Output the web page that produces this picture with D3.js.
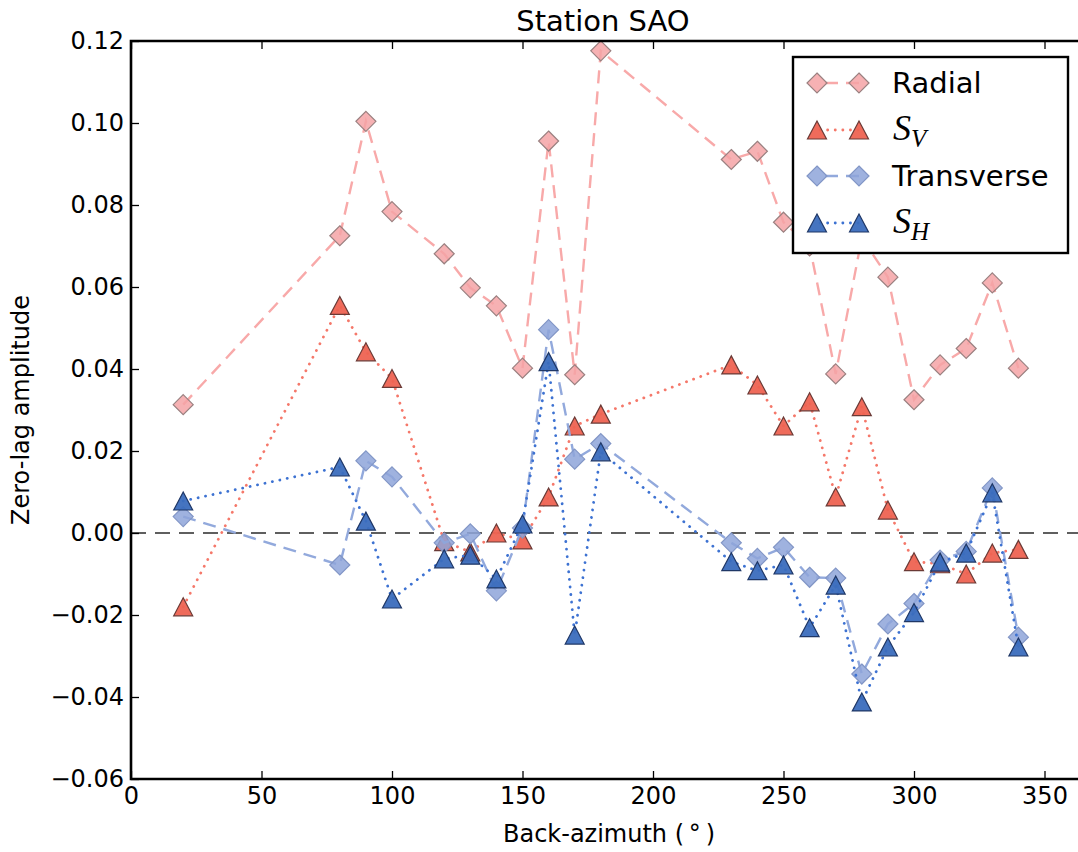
<!DOCTYPE html>
<html lang="en">
<head>
  <meta charset="UTF-8">
  <title>Station SAO</title>
  <script src="https://d3js.org/d3.v7.min.js"></script>
  <style>
    body { margin: 0; background: #fff; }
    svg { display: block; font-family: "DejaVu Sans", sans-serif; }
  </style>
</head>
<body>
<svg width="1078" height="852"></svg>
<script>
  // back-azimuth of each event bin (degrees)
  const azimuth = [20, 80, 90, 100, 120, 130, 140, 150, 160, 170, 180, 230, 240, 250, 260, 270, 280, 290, 300, 310, 320, 330, 340];

  // zero-lag amplitudes
  const radial = [0.0313, 0.0725, 0.1004, 0.0784, 0.0681, 0.0598, 0.0554, 0.0402, 0.0956, 0.0386, 0.1176,
                  0.0911, 0.0931, 0.0758, 0.0700, 0.0388, 0.0720, 0.0624, 0.0325, 0.0410, 0.0450, 0.0610, 0.0402];
  const sv = [-0.0180, 0.0555, 0.0442, 0.0377, -0.0021, -0.0046, 0.0000, -0.0017, 0.0088, 0.0261, 0.0290,
              0.0410, 0.0361, 0.0261, 0.0320, 0.0088, 0.0308, 0.0056, -0.0070, -0.0075, -0.0100, -0.0049, -0.0040];
  const transverse = [0.0040, -0.0078, 0.0176, 0.0137, -0.0024, -0.0002, -0.0141, 0.0012, 0.0496, 0.0180, 0.0218,
                      -0.0024, -0.0062, -0.0035, -0.0108, -0.0110, -0.0344, -0.0222, -0.0172, -0.0066, -0.0045, 0.0110, -0.0254];
  const sh = [0.0078, 0.0161, 0.0029, -0.0161, -0.0063, -0.0054, -0.0112, 0.0022, 0.0418, -0.0249, 0.0198,
              -0.0070, -0.0092, -0.0078, -0.0231, -0.0127, -0.0412, -0.0278, -0.0194, -0.0071, -0.0049, 0.0098, -0.0278];

  const xTicks = [0, 50, 100, 150, 200, 250, 300, 350];
  const yTicks = [-0.06, -0.04, -0.02, 0.00, 0.02, 0.04, 0.06, 0.08, 0.10, 0.12];

  const series = [
    { name: "Radial", values: radial, shape: "diamond", fill: "#f5a3a6", stroke: "#9a8080",
      line: "#f8a9a9", dash: "13,8", opacity: 0.85 },
    { name: "SV", sub: "V", values: sv, shape: "triangle", fill: "#ee6352", stroke: "#6a3a36",
      line: "#f5786a", dash: "2,7", opacity: 0.95 },
    { name: "Transverse", values: transverse, shape: "diamond", fill: "#8ea4d9", stroke: "#8296c6",
      line: "#92a9dc", dash: "13,8", opacity: 0.85 },
    { name: "SH", sub: "H", values: sh, shape: "triangle", fill: "#3b6dbd", stroke: "#1f3766",
      line: "#3d72d2", dash: "2,7", opacity: 0.95 }
  ];

  const svg = d3.select("svg");
  const plotLeft = 131, plotTop = 41, plotBottom = 779;

  const x = d3.scaleLinear().domain([0, 364]).range([plotLeft, plotLeft + 364 * 2.61]);
  const y = d3.scaleLinear().domain([-0.06, 0.12]).range([plotBottom, plotTop]);

  svg.append("rect").attr("width", 1078).attr("height", 852).attr("fill", "#fff");

  // zero reference line
  svg.append("line")
    .attr("x1", x(0)).attr("x2", x(364))
    .attr("y1", y(0)).attr("y2", y(0))
    .attr("stroke", "#5f5f5f").attr("stroke-width", 2.2)
    .attr("stroke-dasharray", "15,9");

  const markerPath = {
    diamond: "M0,-10L10,0L0,10L-10,0Z",
    triangle: "M0,-9L9.5,9L-9.5,9Z"
  };

  const line = d3.line().x(d => x(d[0])).y(d => y(d[1]));

  series.forEach(s => {
    const pts = azimuth.map((a, i) => [a, s.values[i]]);
    svg.append("path")
      .attr("d", line(pts))
      .attr("fill", "none")
      .attr("stroke", s.line)
      .attr("stroke-width", s.shape === "diamond" ? 2.4 : 2.8)
      .attr("stroke-linecap", s.shape === "diamond" ? "butt" : "round")
      .attr("stroke-dasharray", s.shape === "diamond" ? s.dash : "0.1,7.5");

    svg.append("g").selectAll("path")
      .data(pts)
      .join("path")
      .attr("transform", d => `translate(${x(d[0])},${y(d[1])})`)
      .attr("d", markerPath[s.shape])
      .attr("fill", s.fill)
      .attr("fill-opacity", s.opacity)
      .attr("stroke", s.stroke)
      .attr("stroke-width", 1.2);
  });

  // axes with inward ticks
  const fmtY = d3.format(".2f");
  const yAxis = svg.append("g")
    .attr("transform", `translate(${plotLeft},0)`)
    .call(d3.axisLeft(y).tickValues(yTicks).tickFormat(fmtY).tickSizeInner(-8).tickSizeOuter(0).tickPadding(7));
  const xAxis = svg.append("g")
    .attr("transform", `translate(0,${plotBottom})`)
    .call(d3.axisBottom(x).tickValues(xTicks).tickFormat(d3.format("d")).tickSizeInner(-8).tickSizeOuter(0).tickPadding(8));
  const xTop = svg.append("g")
    .attr("transform", `translate(0,${plotTop})`)
    .call(d3.axisTop(x).tickValues(xTicks).tickFormat("").tickSizeInner(-8).tickSizeOuter(0));

  [yAxis, xAxis, xTop].forEach(g => {
    g.select(".domain").remove();
    g.selectAll(".tick line").attr("stroke", "#000").attr("stroke-width", 1.3);
    g.selectAll(".tick text").attr("fill", "#000").style("font-size", "24px").style("font-family", "DejaVu Sans");
  });

  // spines
  svg.append("path")
    .attr("d", `M${x(364)},${plotTop}H${plotLeft}V${plotBottom}H${x(364)}`)
    .attr("fill", "none").attr("stroke", "#000").attr("stroke-width", 2.6);

  // title and labels
  svg.append("text")
    .attr("x", 603).attr("y", 31)
    .attr("text-anchor", "middle")
    .style("font-size", "29px")
    .text("Station SAO");

  svg.append("text")
    .attr("x", 609).attr("y", 842)
    .attr("text-anchor", "middle")
    .style("font-size", "24px")
    .text("Back-azimuth (\u2009\u00b0\u2009)");

  svg.append("text")
    .attr("transform", "translate(29,410) rotate(-90)")
    .attr("text-anchor", "middle")
    .style("font-size", "24px")
    .text("Zero-lag amplitude");

  // legend
  const leg = svg.append("g");
  leg.append("rect")
    .attr("x", 793).attr("y", 57).attr("width", 275).attr("height", 196)
    .attr("fill", "#fff").attr("stroke", "#000").attr("stroke-width", 2.4);

  const rowY = [83, 130, 176, 223];
  series.forEach((s, i) => {
    const g = leg.append("g").attr("transform", `translate(0,${rowY[i]})`);
    g.append("line")
      .attr("x1", 817).attr("x2", 859)
      .attr("stroke", s.line).attr("stroke-width", s.shape === "diamond" ? 2.4 : 2.8)
      .attr("stroke-linecap", s.shape === "diamond" ? "butt" : "round")
      .attr("stroke-dasharray", s.shape === "diamond" ? s.dash : "0.1,7.5")
      .attr("stroke-dashoffset", s.shape === "diamond" ? -8 : -3);
    [817, 859].forEach(mx => {
      g.append("path")
        .attr("transform", `translate(${mx},0)`)
        .attr("d", markerPath[s.shape])
        .attr("fill", s.fill).attr("fill-opacity", s.opacity)
        .attr("stroke", s.stroke).attr("stroke-width", 1.2);
    });
    if (s.sub) {
      const t = g.append("text").attr("x", 893).attr("y", 10)
        .style("font-family", "Liberation Serif, serif").style("font-style", "italic").style("font-size", "36px");
      t.append("tspan").text("S");
      t.append("tspan").attr("dy", 7).style("font-size", "25px").text(s.sub);
    } else {
      g.append("text").attr("x", 892).attr("y", 10)
        .style("font-size", "29px")
        .text(s.name);
    }
  });
</script>
</body>
</html>
